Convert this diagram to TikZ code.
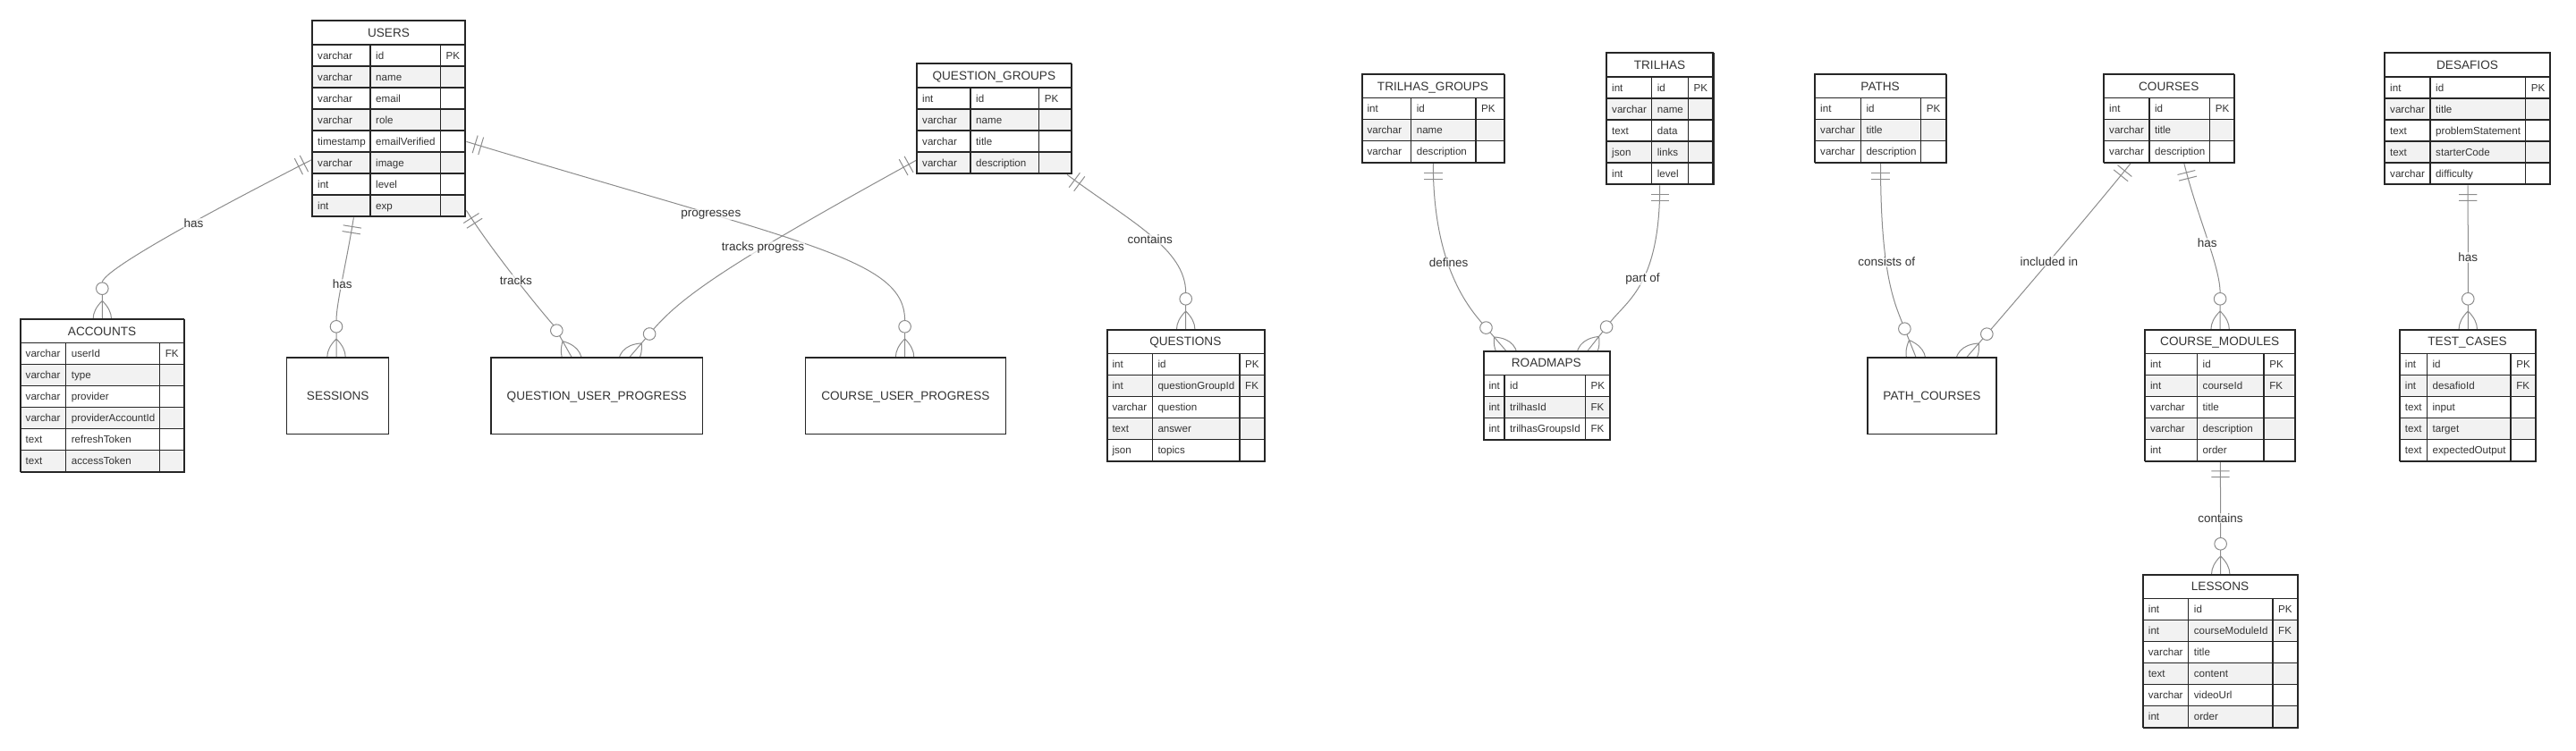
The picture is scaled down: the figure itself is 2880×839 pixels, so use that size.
\documentclass[tikz,border=0pt]{standalone}
\usepackage{fontspec}
\setmainfont{Liberation Sans}
\usetikzlibrary{calc}

\pgfdeclarelayer{background}
\pgfsetlayers{background,main}

\definecolor{erline}{HTML}{262626}
\definecolor{rowgray}{HTML}{F2F2F2}
\definecolor{linkgray}{HTML}{8C8C8C}
\definecolor{txtgray}{HTML}{333333}

% Marcatori ER: uno e solo uno
\pgfdeclarearrow{
  name = ERone,
  setup code = {
    \pgfarrowssettipend{0pt}
    \pgfarrowssetlineend{0pt}
    \pgfarrowssetbackend{-17pt}
    \pgfarrowsupperhullpoint{-17pt}{10.2pt}
    \pgfarrowsupperhullpoint{0pt}{10.2pt}
  },
  drawing code = {
    \pgfpathmoveto{\pgfqpoint{-10.2pt}{-10.2pt}}
    \pgfpathlineto{\pgfqpoint{-10.2pt}{10.2pt}}
    \pgfpathmoveto{\pgfqpoint{-17pt}{-10.2pt}}
    \pgfpathlineto{\pgfqpoint{-17pt}{10.2pt}}
    \pgfusepathqstroke
  }
}
% Marcatori ER: zero o molti
\pgfdeclarearrow{
  name = ERmany,
  setup code = {
    \pgfarrowssettipend{0pt}
    \pgfarrowssetlineend{-40.8pt}
    \pgfarrowssetbackend{-40.8pt}
    \pgfarrowsupperhullpoint{-40.8pt}{10.2pt}
    \pgfarrowsupperhullpoint{0pt}{10.2pt}
  },
  drawing code = {
    \pgfpathcircle{\pgfqpoint{-34pt}{0pt}}{6.8pt}
    \pgfpathmoveto{\pgfqpoint{-27.2pt}{0pt}}
    \pgfpathlineto{\pgfqpoint{0pt}{0pt}}
    \pgfpathmoveto{\pgfqpoint{-20.3pt}{0pt}}
    \pgfpathcurveto{\pgfqpoint{-6.8pt}{13.6pt}}{\pgfqpoint{6.8pt}{13.6pt}}{\pgfqpoint{20.3pt}{0pt}}
    \pgfpathmoveto{\pgfqpoint{-20.3pt}{0pt}}
    \pgfpathcurveto{\pgfqpoint{-6.8pt}{-13.6pt}}{\pgfqpoint{6.8pt}{-13.6pt}}{\pgfqpoint{20.3pt}{0pt}}
    \pgfusepathqstroke
  }
}

% Tabella: nome, x, y, colonne (3), titolo, numero righe, righe
\newcommand\ertable[9]{%
  \pgfmathsetmacro\erw{#4+#5+#6}%
  \pgfmathsetmacro\erh{27+24*#8}%
  \fill[white] (#2,#3) rectangle ++(\erw,27);
  \draw[erborder] (#2,#3) rectangle ++(\erw,27);
  \node[ertitle] at (#2+\erw/2,#3+13.5) {#7};
  \foreach [count=\i] \ty/\fn/\ky in {#9} {
    \pgfmathsetmacro\ery{#3+27+24*(\i-1)}
    \pgfmathtruncatemacro\eralt{mod(\i,2)}
    \ifnum\eralt=0 \def\erfill{rowgray}\else\def\erfill{white}\fi
    \fill[fill=\erfill] (#2,\ery) rectangle ++(\erw,24);
    \draw[erborder] (#2,\ery) rectangle ++(\erw,24)
      (#2+#4,\ery) -- ++(0,24) (#2+#4+#5,\ery) -- ++(0,24);
    \node[ertext] at (#2+6,\ery+12) {\ty};
    \node[ertext] at (#2+#4+6,\ery+12) {\fn};
    \node[ertext] at (#2+#4+#5+6,\ery+12) {\ky};
  }
  \node[draw=erline, line width=1.4pt, anchor=north west, inner sep=0pt,
        minimum width=\erw pt, minimum height=\erh pt] (#1) at (#2,#3) {};
}

\begin{document}
\begin{tikzpicture}[
    x=1pt, y=-1pt,
    % Stili
    erborder/.style={draw=erline, line width=1.4pt},
    ertitle/.style={text=txtgray, inner sep=0pt, text height=9.7pt, text depth=0pt, font=\fontsize{13.6}{16}\selectfont},
    ertext/.style={anchor=west, text=txtgray, inner sep=0pt, text height=8.3pt, text depth=0pt, font=\fontsize{11.6}{14}\selectfont},
    erbox/.style={draw=erline, line width=1.4pt, fill=white, anchor=north west, inner sep=0pt, minimum height=85.7pt, text=txtgray, text height=9.7pt, text depth=0pt, font=\fontsize{13.6}{16}\selectfont},
    erlink/.style={draw=linkgray, line width=1pt, ERone-ERmany},
    erlabel/.style={fill=white, fill opacity=0.7, text opacity=1, text=txtgray, inner sep=1pt, font=\fontsize{13.5}{16}\selectfont}
  ]
  \useasboundingbox (0,0) rectangle (2880,839);

  % Tabelle
  \ertable{users}{349}{23}{65}{78.5}{27.5}{USERS}{8}{varchar/id/PK, varchar/name/{}, varchar/email/{}, varchar/role/{}, timestamp/emailVerified/{}, varchar/image/{}, int/level/{}, int/exp/{}}
  \ertable{accounts}{22.5}{356.7}{51.1}{105}{27.1}{ACCOUNTS}{6}{varchar/userId/FK, varchar/type/{}, varchar/provider/{}, varchar/providerAccountId/{}, text/refreshToken/{}, text/accessToken/{}}
  \ertable{question_groups}{1025}{71}{60}{76.7}{36}{QUESTION\_GROUPS}{4}{int/id/PK, varchar/name/{}, varchar/title/{}, varchar/description/{}}
  \ertable{questions}{1237.3}{368.3}{51}{97.7}{27.3}{QUESTIONS}{5}{int/id/PK, int/questionGroupId/FK, varchar/question/{}, text/answer/{}, json/topics/{}}
  \ertable{trilhas_groups}{1522.3}{82.7}{55.3}{72.3}{31.7}{TRILHAS\_GROUPS}{3}{int/id/PK, varchar/name/{}, varchar/description/{}}
  \ertable{trilhas}{1796}{59}{50.7}{40.7}{27.7}{TRILHAS}{5}{int/id/PK, varchar/name/{}, text/data/{}, json/links/{}, int/level/{}}
  \ertable{roadmaps}{1658.3}{392.3}{23.7}{90.3}{27}{ROADMAPS}{3}{int/id/PK, int/trilhasId/FK, int/trilhasGroupsId/FK}
  \ertable{paths}{2029}{82.7}{51.3}{67.3}{27.6}{PATHS}{3}{int/id/PK, varchar/title/{}, varchar/description/{}}
  \ertable{courses}{2352}{82.7}{50.9}{67.7}{26.8}{COURSES}{3}{int/id/PK, varchar/title/{}, varchar/description/{}}
  \ertable{course_modules}{2397.9}{368.3}{58.6}{74.6}{34.4}{COURSE\_MODULES}{5}{int/id/PK, int/courseId/FK, varchar/title/{}, varchar/description/{}, int/order/{}}
  \ertable{lessons}{2395.7}{642.3}{51}{94.3}{27.3}{LESSONS}{6}{int/id/PK, int/courseModuleId/FK, varchar/title/{}, text/content/{}, varchar/videoUrl/{}, int/order/{}}
  \ertable{desafios}{2666}{59}{51}{106.7}{27.3}{DESAFIOS}{5}{int/id/PK, varchar/title/{}, text/problemStatement/{}, text/starterCode/{}, varchar/difficulty/{}}
  \ertable{test_cases}{2682.7}{368.3}{30.7}{93.7}{27.3}{TEST\_CASES}{5}{int/id/PK, int/desafioId/FK, text/input/{}, text/target/{}, text/expectedOutput/{}}

  % Entita senza attributi
  \node[erbox, minimum width=114pt] (sessions) at (320,399.3) {SESSIONS};
  \node[erbox, minimum width=236.6pt] (qu_progress) at (548.2,399.3) {QUESTION\_USER\_PROGRESS};
  \node[erbox, minimum width=224.1pt] (cu_progress) at (899.6,399.3) {COURSE\_USER\_PROGRESS};
  \node[erbox, minimum width=144.2pt] (path_courses) at (2087.2,399.3) {PATH\_COURSES};

  % Relazioni
  \begin{pgfonlayer}{background}
    \draw[erlink] ($(users.south west)+(0,-65)$) .. controls +(-178,91) and +(0,-50) .. ($(accounts.north west)+(91.8,0)$) node[erlabel, pos=0.31] {has};
    \draw[erlink] ($(users.south west)+(46.4,0)$) .. controls +(-8,50) and +(0,-60) .. ($(sessions.north west)+(56,0)$) node[erlabel, pos=0.5] {has};
    \draw[erlink] ($(users.south east)+(0,-8)$) .. controls +(35,55) and +(-18,-32) .. ($(qu_progress.north west)+(90.8,0)$) node[erlabel, pos=0.43] {tracks};
    \draw[erlink] ($(users.south east)+(0,-85)$) .. controls +(380,115) and +(0,-110) .. ($(cu_progress.north west)+(112,0)$) node[erlabel, pos=0.3] {progresses};
    \draw[erlink] ($(question_groups.south west)+(0,-16.5)$) .. controls +(-200,110) and +(60,-70) .. ($(qu_progress.north west)+(155.8,0)$) node[erlabel, pos=0.37] {tracks progress};
    \draw[erlink] ($(question_groups.south east)+(-6,0)$) .. controls +(70,52) and +(0,-90) .. ($(questions.north west)+(88.4,0)$) node[erlabel, pos=0.5] {contains};

    \draw[erlink] ($(trilhas_groups.south west)+(80,0)$) .. controls +(0,110) and +(-45,-52) .. ($(roadmaps.north west)+(25.4,0)$) node[erlabel, pos=0.42] {defines};
    \draw[erlink] ($(trilhas.south west)+(59.7,0)$) .. controls +(0,110) and +(45,-57) .. ($(roadmaps.north west)+(116.7,0)$) node[erlabel, pos=0.45] {part of};

    \draw[erlink] ($(paths.south west)+(73.5,0)$) .. controls +(0,120) and +(-25,-63) .. ($(path_courses.north west)+(54.7,0)$) node[erlabel, pos=0.4] {consists of};
    \draw[erlink] ($(courses.south west)+(29.8,0)$) .. controls +(-50,62) and +(40,-46) .. ($(path_courses.north west)+(111.8,0)$) node[erlabel, pos=0.48] {included in};
    \draw[erlink] ($(courses.south west)+(89.9,0)$) .. controls +(15,60) and +(0,-70) .. ($(course_modules.north west)+(84.2,0)$) node[erlabel, pos=0.5] {has};
    \draw[erlink] (course_modules.south) -- (lessons.north) node[erlabel, midway] {contains};
    \draw[erlink] (desafios.south) -- (test_cases.north) node[erlabel, midway] {has};
  \end{pgfonlayer}
\end{tikzpicture}
\end{document}
